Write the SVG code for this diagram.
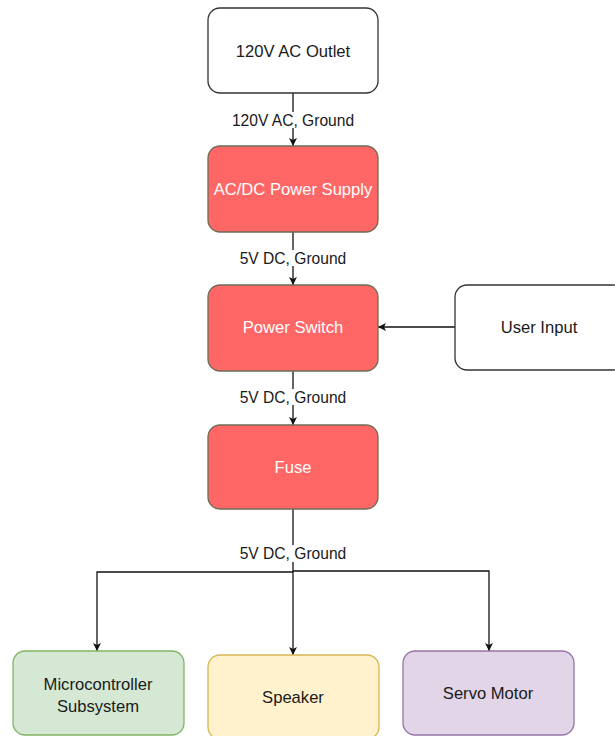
<svg xmlns="http://www.w3.org/2000/svg" width="615" height="736" viewBox="0 0 615 736">
  <style>
    .box { stroke-width: 1.3; }
    .plain { fill: #ffffff; stroke: #333333; }
    .red { fill: #ff6666; stroke: #6d6d55; }
    .green { fill: #d5e8d4; stroke: #82b366; }
    .yellow { fill: #fff2cc; stroke: #d6b656; }
    .purple { fill: #e1d5e7; stroke: #9673a6; }
    text { font-family: "Liberation Sans", Arial, sans-serif; font-size: 16.6px; text-anchor: middle; dominant-baseline: central; fill: #1a1a1a; }
    .light { fill: #ffffff; }
    .lbl { font-size: 15.6px; }
    .wire { fill: none; stroke: #111111; stroke-width: 1.3; }
    .lblbg { fill: #ffffff; }
  </style>
  <defs>
    <marker id="arrow" viewBox="0 0 10 10" refX="10" refY="5" markerWidth="8" markerHeight="8" markerUnits="userSpaceOnUse" orient="auto">
      <path d="M0,0 L10,5 L0,10 L2.5,5 Z" fill="#111111"/>
    </marker>
  </defs>

  <!-- connectors -->
  <g id="connectors">
    <path class="wire" d="M293,93 V146" marker-end="url(#arrow)"/>
    <path class="wire" d="M293,232 V285" marker-end="url(#arrow)"/>
    <path class="wire" d="M293,371 V425" marker-end="url(#arrow)"/>
    <path class="wire" d="M455,327 H378" marker-end="url(#arrow)"/>
    <!-- fuse output fans out to the three loads -->
    <path class="wire" d="M293,509 V655" marker-end="url(#arrow)"/>
    <path class="wire" d="M293,572 H97 V651" marker-end="url(#arrow)"/>
    <path class="wire" d="M293,571 H489 V651" marker-end="url(#arrow)"/>
    <!-- edge labels -->
    <rect class="lblbg" x="232" y="112" width="122" height="16"/>
    <text class="lbl" x="293" y="120">120V AC, Ground</text>
    <rect class="lblbg" x="238" y="250" width="110" height="16"/>
    <text class="lbl" x="293" y="258">5V DC, Ground</text>
    <rect class="lblbg" x="238" y="389" width="110" height="16"/>
    <text class="lbl" x="293" y="397">5V DC, Ground</text>
    <rect class="lblbg" x="238" y="545" width="110" height="17"/>
    <text class="lbl" x="293" y="553">5V DC, Ground</text>
  </g>

  <g id="outlet">
    <rect class="box plain" x="208" y="8" width="170" height="85" rx="12"/>
    <text x="293" y="51">120V AC Outlet</text>
  </g>
  <g id="power-supply">
    <rect class="box red" x="208" y="146" width="170" height="86" rx="12"/>
    <text class="light" x="293" y="189">AC/DC Power Supply</text>
  </g>
  <g id="power-switch">
    <rect class="box red" x="208" y="285" width="170" height="86" rx="12"/>
    <text class="light" x="293" y="327">Power Switch</text>
  </g>
  <g id="user-input">
    <rect class="box plain" x="455" y="285" width="170" height="85" rx="12"/>
    <text x="539" y="327">User Input</text>
  </g>
  <g id="fuse">
    <rect class="box red" x="208" y="425" width="170" height="84" rx="12"/>
    <text class="light" x="293" y="467">Fuse</text>
  </g>
  <g id="microcontroller">
    <rect class="box green" x="13" y="651" width="171" height="84" rx="12"/>
    <text x="98" y="684">Microcontroller</text>
    <text x="98" y="706">Subsystem</text>
  </g>
  <g id="speaker">
    <rect class="box yellow" x="208" y="655" width="171" height="84" rx="12"/>
    <text x="293" y="697">Speaker</text>
  </g>
  <g id="servo">
    <rect class="box purple" x="403" y="651" width="171" height="84" rx="12"/>
    <text x="488" y="693">Servo Motor</text>
  </g>
</svg>
